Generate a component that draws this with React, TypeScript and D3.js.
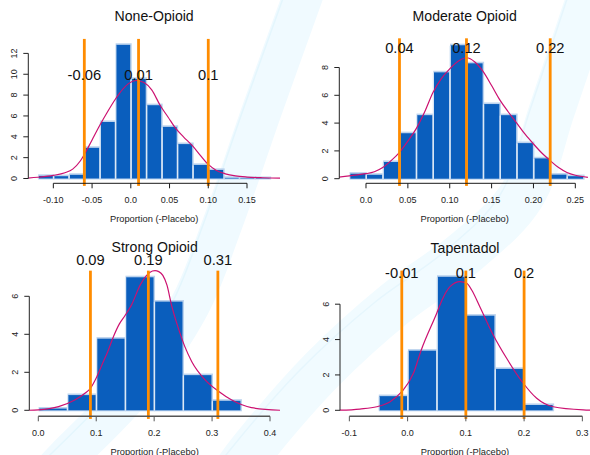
import React from "react";
import * as d3 from "d3";

// ---------------- data ----------------
const panelTitles = ["None-Opioid", "Moderate Opioid", "Strong Opioid", "Tapentadol"];

// histogram: first break, bin width, bar heights (density)
const histStart = [-0.12, -0.02, 0.0, -0.05];
const histBinWidth = [0.02, 0.02, 0.05, 0.05];
const histNone = [0.25, 0.22, 0.35, 2.94, 5.42, 12.82, 9.55, 7.03, 4.95, 3.3, 1.3, 0.82, 0.06, 0.04, 0.04];
const histModerate = [0.36, 0.28, 1.2, 3.27, 4.57, 7.65, 9.6, 8.3, 5.37, 4.57, 2.56, 1.46, 0.29, 0.18];
const histStrong = [0.09, 0.8, 3.77, 7.0, 5.72, 1.85, 0.5];
const histTapentadol = [0.8, 3.37, 7.55, 5.35, 2.34, 0.3];

// kernel density curves (x, density)
const densXNone = [-0.135, -0.12, -0.1, -0.085, -0.075, -0.065, -0.06, -0.05, -0.04, -0.03, -0.02, -0.01, -0.003, 0.007, 0.017, 0.027, 0.038, 0.048, 0.058, 0.068, 0.08, 0.09, 0.1, 0.11, 0.122, 0.135, 0.15, 0.17, 0.195];
const densYNone = [0.03, 0.12, 0.3, 0.55, 0.9, 1.7, 2.3, 3.7, 5.1, 6.4, 7.6, 8.6, 9.1, 9.4, 9.2, 8.5, 7.0, 5.9, 4.8, 4.0, 3.1, 2.2, 1.35, 0.8, 0.45, 0.25, 0.14, 0.07, 0.03];
const densXModerate = [-0.035, -0.02, -0.01, 0.0, 0.01, 0.02, 0.03, 0.04, 0.05, 0.06, 0.07, 0.08, 0.09, 0.1, 0.11, 0.12, 0.13, 0.14, 0.15, 0.16, 0.17, 0.18, 0.19, 0.2, 0.21, 0.22, 0.23, 0.24, 0.25, 0.265];
const densYModerate = [0.1, 0.2, 0.28, 0.36, 0.5, 0.8, 1.3, 1.9, 2.7, 3.6, 4.8, 6.2, 7.2, 7.9, 8.45, 8.7, 8.4, 7.7, 6.7, 5.65, 4.8, 4.0, 3.2, 2.5, 1.85, 1.3, 0.8, 0.45, 0.25, 0.1];
const densXStrong = [-0.02, 0.0, 0.035, 0.063, 0.08, 0.09, 0.1, 0.11, 0.12, 0.13, 0.14, 0.15, 0.161, 0.176, 0.187, 0.197, 0.2015, 0.208, 0.215, 0.222, 0.23, 0.242, 0.253, 0.265, 0.288, 0.311, 0.334, 0.368, 0.42];
const densYStrong = [0.0, 0.02, 0.19, 0.54, 0.88, 1.16, 1.7, 2.4, 3.1, 3.9, 4.55, 5.0, 5.55, 6.6, 7.1, 7.33, 7.35, 7.3, 7.1, 6.6, 5.54, 4.3, 3.35, 2.56, 1.6, 1.0, 0.54, 0.14, 0.0];
const densXTapentadol = [-0.12, -0.082, -0.053, -0.03, -0.01, 0.01, 0.023, 0.05, 0.06, 0.0728, 0.09, 0.1015, 0.11, 0.124, 0.147, 0.17, 0.1986, 0.2216, 0.25, 0.3016, 0.32];
const densYTapentadol = [0.0, 0.07, 0.2, 0.49, 1.05, 2.09, 3.37, 5.49, 6.3, 6.99, 7.28, 7.18, 6.8, 5.86, 4.26, 2.94, 1.53, 0.68, 0.2, 0.02, 0.0];

// credible-interval markers (value, label)
const quantNone = [-0.06, 0.01, 0.1];
const quantModerate = [0.04, 0.12, 0.22];
const quantStrong = [0.09, 0.19, 0.31];
const quantTapentadol = [-0.01, 0.1, 0.2];
const quantLabelsNone = ["-0.06", "0.01", "0.1"];
const quantLabelsModerate = ["0.04", "0.12", "0.22"];
const quantLabelsStrong = ["0.09", "0.19", "0.31"];
const quantLabelsTapentadol = ["-0.01", "0.1", "0.2"];
const quantLineTop = [13.39, 10.1, 7.35, 7.9];
const quantLabelY = [10.0, 9.4, 7.93, 7.8];

// axis ticks
const xTicksNone = [-0.1, -0.05, 0, 0.05, 0.1, 0.15];
const xTickLabelsNone = ["-0.10", "-0.05", "0.0", "0.05", "0.10", "0.15"];
const xTicksModerate = [0, 0.05, 0.1, 0.15, 0.2, 0.25];
const xTickLabelsModerate = ["0.0", "0.05", "0.10", "0.15", "0.20", "0.25"];
const xTicksStrong = [0, 0.1, 0.2, 0.3, 0.4];
const xTickLabelsStrong = ["0.0", "0.1", "0.2", "0.3", "0.4"];
const xTicksTapentadol = [-0.1, 0, 0.1, 0.2, 0.3];
const xTickLabelsTapentadol = ["-0.1", "0.0", "0.1", "0.2", "0.3"];
const yTicksNone = [0, 2, 4, 6, 8, 10, 12];
const yTicksModerate = [0, 2, 4, 6, 8];
const yTicksStrong = [0, 2, 4, 6];
const yTicksTapentadol = [0, 2, 4, 6];
const xAxisTitle = "Proportion (-Placebo)";

// ---------------- layout ----------------
const W = 590;
const H = 455;
const FONT = "'Liberation Sans', Arial, Helvetica, sans-serif";
const BAR_FILL = "#0a5ebd";
const BAR_EDGE = "#dbe8f6";
const DENS_COLOR = "#cc1170";
const QUANT_COLOR = "#ff8c00";

type Frame = {
  xDomain: [number, number];
  xRange: [number, number];
  yDomain: [number, number];
  yRange: [number, number];
  plotLeft: number;
  plotRight: number;
  axisY: number;
  axisColor: string;
  axisWidth: number;
  titleY: number;
};

const frames: Frame[] = [
  { xDomain: [-0.12, 0.18], xRange: [37.84, 270.25], yDomain: [0, 12], yRange: [178.5, 53.4], plotLeft: 28.3, plotRight: 280, axisY: 183.3, axisColor: "#1a1a1a", axisWidth: 1, titleY: 21 },
  { xDomain: [-0.02, 0.26], xRange: [349.25, 583.7], yDomain: [0, 8], yRange: [178.7, 67.5], plotLeft: 339.3, plotRight: 590, axisY: 183.3, axisColor: "#1a1a1a", axisWidth: 1, titleY: 21 },
  { xDomain: [0, 0.4], xRange: [38.3, 270], yDomain: [0, 6], yRange: [410.3, 296.3], plotLeft: 29.3, plotRight: 280, axisY: 416.3, axisColor: "#555", axisWidth: 1.6, titleY: 252.3 },
  { xDomain: [-0.1, 0.3], xRange: [349.35, 582.35], yDomain: [0, 6], yRange: [410.3, 304.2], plotLeft: 340, plotRight: 590, axisY: 416.3, axisColor: "#555", axisWidth: 1.6, titleY: 253 },
];

const hists = [histNone, histModerate, histStrong, histTapentadol];
const densX = [densXNone, densXModerate, densXStrong, densXTapentadol];
const densY = [densYNone, densYModerate, densYStrong, densYTapentadol];
const quants = [quantNone, quantModerate, quantStrong, quantTapentadol];
const quantLabels = [quantLabelsNone, quantLabelsModerate, quantLabelsStrong, quantLabelsTapentadol];
const xTicks = [xTicksNone, xTicksModerate, xTicksStrong, xTicksTapentadol];
const xTickLabels = [xTickLabelsNone, xTickLabelsModerate, xTickLabelsStrong, xTickLabelsTapentadol];
const yTicks = [yTicksNone, yTicksModerate, yTicksStrong, yTicksTapentadol];

// faint decorative background bands
const bandA: [number, number][] = [[305, -10], [262, 110], [222, 225], [190, 305], [132, 390], [66, 458], [50, 475]];
const bandB: [number, number][] = [[592, -10], [552, 110], [522, 195], [466, 252], [396, 303], [322, 370], [252, 450], [237, 470]];

function Panel({ i }: { i: number }) {
  const f = frames[i];
  const xs = d3.scaleLinear().domain(f.xDomain).range(f.xRange);
  const ys = d3.scaleLinear().domain(f.yDomain).range(f.yRange);
  const cx = (f.plotLeft + f.plotRight) / 2;
  const bars = hists[i].map((h, k) => {
    const x0 = histStart[i] + k * histBinWidth[i];
    return { x0, x1: x0 + histBinWidth[i], h };
  });
  const pts: [number, number][] = densX[i].map((x, k) => [x, densY[i][k]]);
  const line = d3
    .line<[number, number]>()
    .x((d) => xs(d[0]))
    .y((d) => ys(d[1]))
    .curve(d3.curveMonotoneX);
  const clipId = `clip${i}`;
  const xt = xTicks[i];
  const yt = yTicks[i];
  const yAxisX = f.plotLeft;
  return (
    <g>
      <defs>
        <clipPath id={clipId}>
          <rect x={f.plotLeft} y={0} width={f.plotRight - f.plotLeft} height={H} />
        </clipPath>
      </defs>
      <text x={cx} y={f.titleY} textAnchor="middle" fontSize={14.1} fontFamily={FONT} fill="#111">
        {panelTitles[i]}
      </text>
      {/* bars */}
      {bars.map((b, k) => (
        <rect
          key={`u${k}`}
          x={xs(b.x0) + 0.3}
          y={ys(b.h) - 1.6}
          width={xs(b.x1) - xs(b.x0) + 0.6}
          height={ys(0) - ys(b.h) + 2.6}
          fill="#bcd3ee"
        />
      ))}
      {bars.map((b, k) => (
        <rect
          key={`b${k}`}
          x={xs(b.x0) + 1}
          y={ys(b.h)}
          width={Math.max(0, xs(b.x1) - xs(b.x0) - 1.6)}
          height={ys(0) - ys(b.h)}
          fill={BAR_FILL}
        />
      ))}
      {bars.map((b, k) => (
        <line
          key={`s${k}`}
          x1={xs(b.x0) + 0.3}
          x2={xs(b.x0) + 0.3}
          y1={ys(b.h) + 0.5}
          y2={ys(0)}
          stroke={BAR_EDGE}
          strokeWidth={1.2}
        />
      ))}
      {/* density */}
      <path d={line(pts) || ""} fill="none" stroke={DENS_COLOR} strokeWidth={1.2} clipPath={`url(#${clipId})`} />
      {/* quantile markers */}
      {quants[i].map((q, k) => (
        <line
          key={`q${k}`}
          x1={xs(q)}
          x2={xs(q)}
          y1={ys(quantLineTop[i])}
          y2={f.axisY + 2.6}
          stroke={QUANT_COLOR}
          strokeWidth={2.8}
        />
      ))}
      {quants[i].map((q, k) => (
        <text
          key={`ql${k}`}
          x={xs(q)}
          y={ys(quantLabelY[i])}
          dy="0.36em"
          textAnchor="middle"
          fontSize={14.7}
          fontFamily={FONT}
          fill="#111"
        >
          {quantLabels[i][k]}
        </text>
      ))}
      {/* x axis */}
      <line x1={xs(xt[0])} x2={xs(xt[xt.length - 1])} y1={f.axisY} y2={f.axisY} stroke={f.axisColor} strokeWidth={f.axisWidth} />
      {xt.map((t, k) => (
        <g key={`xt${k}`}>
          <line x1={xs(t)} x2={xs(t)} y1={f.axisY} y2={f.axisY + 5} stroke={f.axisColor} strokeWidth={1} />
          <text x={xs(t)} y={f.axisY + 20} textAnchor="middle" fontSize={9} fontFamily={FONT} fill="#222">
            {xTickLabels[i][k]}
          </text>
        </g>
      ))}
      <text x={cx} y={f.axisY + 39} textAnchor="middle" fontSize={9.3} fontFamily={FONT} fill="#222">
        {xAxisTitle}
      </text>
      {/* y axis */}
      <line x1={yAxisX} x2={yAxisX} y1={ys(yt[0])} y2={ys(yt[yt.length - 1])} stroke="#222" strokeWidth={1} />
      {yt.map((t, k) => (
        <g key={`yt${k}`}>
          <line x1={yAxisX - 5} x2={yAxisX} y1={ys(t)} y2={ys(t)} stroke="#222" strokeWidth={1} />
          <text
            transform={`translate(${yAxisX - 11},${ys(t)}) rotate(-90)`}
            textAnchor="middle"
            fontSize={9}
            fontFamily={FONT}
            fill="#222"
          >
            {String(t)}
          </text>
        </g>
      ))}
    </g>
  );
}

export default function App() {
  const bandLine = d3.line<[number, number]>().curve(d3.curveCatmullRom);
  return (
    <div style={{ position: "absolute", left: 0, top: 0, width: W, height: H, background: "#fff" }}>
      <svg width={W} height={H} viewBox={`0 0 ${W} ${H}`} style={{ display: "block" }}>
        <rect x={0} y={0} width={W} height={H} fill="#fff" />
        <path d={bandLine(bandA) || ""} fill="none" stroke="#f0faff" strokeWidth={40} />
        <path d={bandLine(bandA) || ""} fill="none" stroke="#e4f6fd" strokeWidth={1.5} transform="translate(-19,0)" />
        <path d={bandLine(bandB) || ""} fill="none" stroke="#f1fbff" strokeWidth={46} />
        <path d={bandLine(bandB) || ""} fill="none" stroke="#e6f6fd" strokeWidth={1.5} transform="translate(-22,0)" />
        {frames.map((_, i) => (
          <Panel key={i} i={i} />
        ))}
      </svg>
    </div>
  );
}
